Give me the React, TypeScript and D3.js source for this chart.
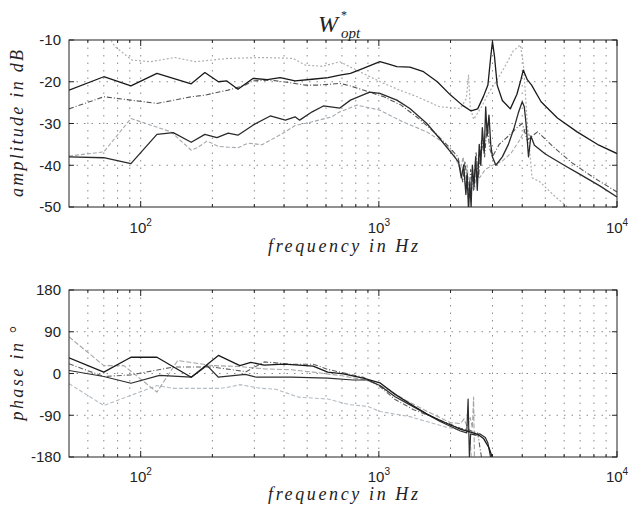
import React from 'react';
import * as d3 from 'd3';

type Pt = [number, number];

// ---------- Amplitude (dB) series: [frequency Hz, value] ----------
const ampA: Pt[] = [[50,-22],[70,-18.8],[91,-21],[117,-18],[163,-20.5],[186,-17.8],[212,-20],[230,-19.8],[256,-21.8],[296,-19.2],[340,-19.5],[385,-19],[445,-19.8],[525,-19.4],[612,-19],[686,-18.4],[760,-18],[860,-16.8],[1010,-15.2],[1100,-15.8],[1190,-16.4],[1350,-16.5],[1540,-17.6],[1760,-20],[2000,-23.2],[2240,-25.6],[2440,-27],[2600,-26.5],[2750,-23.5],[2870,-20.8],[2950,-14],[3000,-10.4],[3060,-14],[3140,-20.8],[3300,-24.5],[3565,-26.5],[3800,-23],[3950,-19.5],[4040,-17.2],[4200,-19.5],[4380,-20.8],[4800,-24.8],[5620,-28.7],[6800,-32],[8400,-35.2],[10000,-37.2]];
const ampB: Pt[] = [[50,-26.5],[70,-23.6],[91,-24.4],[117,-25.2],[163,-23.6],[186,-23.2],[233,-22],[275,-20.8],[296,-19.8],[350,-19.6],[420,-20.2],[490,-20.8],[560,-20.8],[686,-20.4],[760,-21],[860,-22],[1050,-23.6],[1240,-25.6],[1500,-29.2],[1760,-32.8],[2000,-36],[2150,-38],[2250,-44],[2300,-39],[2380,-48],[2430,-41],[2500,-46],[2560,-37],[2620,-43],[2700,-34],[2780,-38],[2850,-30],[2920,-36],[3000,-38],[3200,-35],[3500,-33],[3800,-31],[4000,-30],[4200,-34],[4400,-33],[4640,-32],[5500,-36],[6500,-39.5],[8000,-43],[10000,-46.4]];
const ampC: Pt[] = [[72,-8.5],[78,-11.6],[92,-14.8],[110,-15.2],[139,-14.2],[170,-15.2],[233,-14.4],[323,-14.2],[436,-14.4],[490,-16],[580,-16.3],[686,-15.2],[760,-16.5],[860,-18],[1050,-20.4],[1200,-21.8],[1450,-23.6],[1800,-26],[2200,-26.4],[2330,-24],[2380,-18.4],[2420,-26],[2500,-29],[2700,-26],[2870,-23],[3100,-20],[3350,-16.8],[3670,-12.6],[3930,-11.2],[4050,-16],[4200,-30],[4400,-43],[4750,-44],[5500,-47.5],[6500,-51]];
const ampD: Pt[] = [[50,-38],[70,-38.2],[91,-39.6],[117,-32.6],[137,-32.2],[163,-34.5],[186,-32.6],[209,-33.4],[233,-32.3],[256,-32.8],[296,-30.4],[350,-28.2],[405,-29.2],[445,-28.4],[465,-29.2],[525,-27.2],[585,-25.8],[686,-26.3],[760,-24.4],[915,-22.5],[1010,-22.8],[1190,-24.4],[1350,-26.4],[1590,-30],[1800,-33.6],[2000,-36.8],[2160,-39.2],[2220,-43],[2270,-40],[2320,-47],[2350,-42],[2380,-51],[2410,-44],[2440,-50],[2470,-40],[2510,-45],[2550,-38],[2590,-46],[2640,-35],[2680,-40],[2720,-31],[2770,-37],[2810,-26],[2850,-33],[2900,-28],[2950,-35],[3000,-38],[3100,-40],[3300,-38],[3500,-35],[3700,-31],[3850,-27.5],[4000,-24.8],[4080,-26],[4150,-30],[4250,-38],[4350,-33],[4500,-35.2],[5000,-37.3],[6000,-40],[7000,-42.2],[8500,-45],[10000,-47.6]];
const ampE: Pt[] = [[50,-37.8],[70,-36.8],[91,-28.8],[134,-32],[163,-36.4],[173,-35.8],[190,-34.2],[212,-35.5],[256,-35.8],[283,-34.7],[323,-35.1],[394,-32.4],[445,-30.5],[525,-29.6],[635,-28.4],[686,-27.2],[810,-25.6],[1010,-26.8],[1260,-29.6],[1590,-32],[1850,-34.4],[2050,-37],[2200,-41],[2260,-38],[2310,-45],[2350,-40],[2400,-48],[2450,-42],[2520,-46],[2580,-40],[2650,-43],[2800,-41],[3000,-40],[3300,-39],[3600,-37],[3900,-34],[4150,-31],[4300,-33]];

// ---------- Phase (deg) series ----------
const phA: Pt[] = [[50,34],[70,3],[91,35],[117,35],[163,-8],[212,39],[261,17],[290,24],[330,18],[400,20],[530,16],[610,3],[710,-1],[860,-10],[1010,-20],[1170,-45],[1400,-70],[1600,-88],[1860,-104],[2200,-120],[2450,-127],[2600,-131],[2750,-140],[2900,-160],[3000,-182]];
const phB: Pt[] = [[50,6.5],[70,-6.5],[91,-21],[120,-4],[163,-8],[190,17],[212,-8],[275,-2],[306,-8],[430,-8],[610,-10],[780,-14],[900,-14],[1010,-26],[1170,-50],[1400,-72],[1800,-103],[2200,-124],[2340,-128],[2370,-55],[2400,-182],[2430,-130],[2550,-133],[2650,-130],[2800,-138],[2870,-150],[2950,-182]];
const phC: Pt[] = [[50,21],[70,-6.5],[91,-3],[137,14],[200,14],[277,4],[330,25],[430,20],[530,20],[610,9],[700,2],[860,-8],[1010,-28],[1170,-56],[1400,-78],[1800,-100],[2200,-118],[2400,-122],[2500,-126],[2600,-128],[2700,-182]];
const phD: Pt[] = [[50,79],[70,17],[85,17],[117,-40],[143,28],[200,17],[260,15],[330,10],[430,8],[530,3],[700,-5],[900,-15],[1100,-35],[1300,-58],[1600,-82],[2000,-106],[2200,-108],[2280,-98],[2350,-115],[2420,-95],[2470,-118],[2500,-51],[2520,-182]];
const phE: Pt[] = [[50,-22],[70,-69],[117,-26],[137,-32],[215,-32],[230,-30],[261,-24],[320,-32],[370,-34],[460,-51],[610,-55],[750,-67],[900,-71],[1010,-82],[1350,-93],[1600,-104],[1900,-115],[2200,-122],[2400,-125],[2450,-182]];

// ---------- Axis ticks / labels ----------
const ampTicks = [-10, -20, -30, -40, -50];
const phaseTicks = [180, 90, 0, -90, -180];
const decadeTicks = [100, 1000, 10000];
const decadeExps = ['2', '3', '4'];

const X_MIN = 50, X_MAX = 10000;
const LEFT = 69, RIGHT = 617;
const x = d3.scaleLog().domain([X_MIN, X_MAX]).range([LEFT, RIGHT]);

const minorTicks: number[] = [];
[10, 100, 1000].forEach(d => {
  for (let m = 2; m <= 9; m++) {
    const v = m * d;
    if (v > X_MIN && v < X_MAX) minorTicks.push(v);
  }
});

type Style = { stroke: string; width: number; dash?: string };
const ampSeries: Pt[][] = [ampE, ampC, ampB, ampD, ampA];
const ampStyles: Style[] = [
  { stroke: '#a3a9ae', width: 1.1, dash: '4,2' },
  { stroke: '#b0b0b0', width: 1.2, dash: '2,2' },
  { stroke: '#555', width: 1.1, dash: '5,2,1,2' },
  { stroke: '#2a2a2a', width: 1.3 },
  { stroke: '#1a1a1a', width: 1.3 },
];
const phSeries: Pt[][] = [phE, phD, phC, phB, phA];
const phStyles: Style[] = [
  { stroke: '#b5bcc2', width: 1.1, dash: '4,2' },
  { stroke: '#a5a5a5', width: 1.1, dash: '5,2' },
  { stroke: '#606060', width: 1.1, dash: '5,2,1,2' },
  { stroke: '#2e2e2e', width: 1.2 },
  { stroke: '#1a1a1a', width: 1.3 },
];

const serif = '"Liberation Serif", "DejaVu Serif", serif';
const sans = '"Liberation Sans", Arial, sans-serif';

function Panel(props: {
  id: string; top: number; bottom: number; domain: [number, number]; ticks: number[];
  series: Pt[][]; styles: Style[]; ylabel: string; ylabelLen: number; xlabelY: number; tickLabelY: number;
}) {
  const { id, top, bottom, domain, ticks, series, styles, ylabel, ylabelLen, xlabelY, tickLabelY } = props;
  const y = d3.scaleLinear().domain(domain).range([bottom, top]);
  const line = d3.line<Pt>().x(d => x(d[0])).y(d => y(d[1]));
  const gridX = [...minorTicks, 100, 1000];
  const gridY = ticks.filter(t => t !== domain[0] && t !== domain[1]);
  const mid = (top + bottom) / 2;
  return (
    <g>
      <defs>
        <clipPath id={id}>
          <rect x={LEFT} y={top} width={RIGHT - LEFT} height={bottom - top} />
        </clipPath>
      </defs>
      {gridX.map((v, i) => (
        <line key={'gx' + i} x1={x(v)} x2={x(v)} y1={top} y2={bottom} stroke="#8a8a8a" strokeWidth={1} strokeDasharray="1.5,6" />
      ))}
      {gridY.map((v, i) => (
        <line key={'gy' + i} x1={LEFT} x2={RIGHT} y1={y(v)} y2={y(v)} stroke="#8a8a8a" strokeWidth={1} strokeDasharray="1.5,6" />
      ))}
      <g clipPath={`url(#${id})`}>
        {series.map((s, i) => (
          <path key={'s' + i} d={line(s) || ''} fill="none" stroke={styles[i].stroke} strokeWidth={styles[i].width}
            strokeDasharray={styles[i].dash} strokeLinejoin="round" />
        ))}
      </g>
      <rect x={LEFT} y={top} width={RIGHT - LEFT} height={bottom - top} fill="none" stroke="#222" strokeWidth={1} />
      {minorTicks.map((v, i) => (
        <g key={'mt' + i}>
          <line x1={x(v)} x2={x(v)} y1={bottom} y2={bottom - 3} stroke="#222" />
          <line x1={x(v)} x2={x(v)} y1={top} y2={top + 3} stroke="#222" />
        </g>
      ))}
      {decadeTicks.map((v, i) => (
        <g key={'dt' + i}>
          <line x1={x(v)} x2={x(v)} y1={bottom} y2={bottom - 6} stroke="#222" />
          <line x1={x(v)} x2={x(v)} y1={top} y2={top + 6} stroke="#222" />
          <text x={x(v)} y={tickLabelY} textAnchor="middle" fontFamily={sans} fontSize={15} fill="#222">
            10<tspan fontSize={10} dy={-7}>{decadeExps[i]}</tspan>
          </text>
        </g>
      ))}
      {ticks.map((v, i) => (
        <g key={'yt' + i}>
          <line x1={LEFT} x2={LEFT + 5} y1={y(v)} y2={y(v)} stroke="#222" />
          <line x1={RIGHT} x2={RIGHT - 5} y1={y(v)} y2={y(v)} stroke="#222" />
          <text x={61} y={y(v)} dy="0.36em" textAnchor="end" fontFamily={sans} fontSize={15} fill="#222">{v}</text>
        </g>
      ))}
      <text x={(LEFT + RIGHT) / 2} y={xlabelY} textAnchor="middle" fontFamily={serif} fontStyle="italic" fontSize={18}
        fill="#222" textLength={150} lengthAdjust="spacing">frequency in Hz</text>
      <text transform={`translate(23,${mid}) rotate(-90)`} textAnchor="middle" fontFamily={serif} fontStyle="italic"
        fontSize={18} fill="#222" textLength={ylabelLen} lengthAdjust="spacing">{ylabel}</text>
    </g>
  );
}

export default function App() {
  return (
    <svg width={630} height={508} style={{ position: 'absolute', left: 0, top: 0, background: '#fff' }}>
      <rect x={0} y={0} width={630} height={508} fill="#fff" />
      <text x={318} y={32} fontFamily={serif} fontStyle="italic" fontSize={24} fill="#222">W</text>
      <text x={341} y={19} fontFamily={serif} fontSize={12} fill="#222">*</text>
      <text x={341} y={38} fontFamily={serif} fontStyle="italic" fontSize={15} fill="#222">opt</text>
      <Panel id="clipAmp" top={40} bottom={207} domain={[-50, -10]} ticks={ampTicks} series={ampSeries} styles={ampStyles}
        ylabel="amplitude in dB" ylabelLen={147} xlabelY={252} tickLabelY={233} />
      <Panel id="clipPh" top={290} bottom={457} domain={[-180, 180]} ticks={phaseTicks} series={phSeries} styles={phStyles}
        ylabel="phase in °" ylabelLen={94} xlabelY={500} tickLabelY={482} />
    </svg>
  );
}
